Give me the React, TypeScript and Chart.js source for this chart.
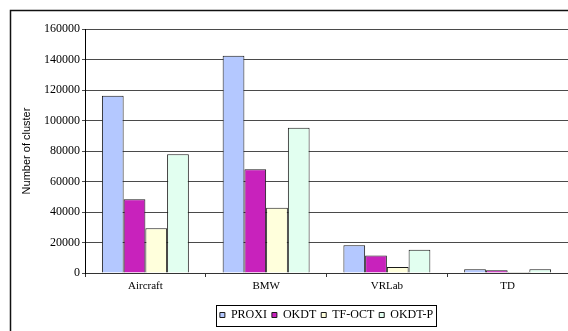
import React, { useEffect, useRef } from "react";
import { Chart, registerables } from "chart.js";

Chart.register(...registerables);

const categories = ["Aircraft", "BMW", "VRLab", "TD"];
const seriesNames = ["PROXI", "OKDT", "TF-OCT", "OKDT-P"];
const proxi = [116300, 142500, 18200, 2400];
const okdt = [48300, 68000, 11400, 1800];
const tfOct = [29300, 42800, 3900, 700];
const okdtP = [77800, 95300, 15300, 2500];
const seriesColors = ["#B4C8FF", "#C822BC", "#FFFFDC", "#E2FFF0"];
const yMax = 160000;
const yStep = 20000;

const frameAndLegendBorder = {
  id: "frameAndLegendBorder",
  afterDraw(chart: any) {
    const ctx = chart.ctx;
    ctx.save();
    ctx.strokeStyle = "#111";
    ctx.lineWidth = 1.5;
    ctx.beginPath();
    ctx.moveTo(10.5, 340);
    ctx.lineTo(10.5, 10.5);
    ctx.lineTo(600, 10.5);
    ctx.stroke();
    const lg = chart.legend;
    if (lg && lg.legendHitBoxes && lg.legendHitBoxes.length) {
      const hb = lg.legendHitBoxes;
      const first = hb[0];
      const last = hb[hb.length - 1];
      const x0 = Math.round(first.left) - 3.5;
      const x1 = Math.round(last.left + last.width) + 3.5;
      const y0 = Math.round(first.top + first.height / 2) - 9.5;
      ctx.lineWidth = 1;
      ctx.strokeStyle = "#000";
      ctx.strokeRect(x0, y0, x1 - x0, 21);
    }
    ctx.restore();
  },
};

export default function App() {
  const ref = useRef<HTMLCanvasElement | null>(null);
  useEffect(() => {
    if (!ref.current) return;
    const values = [proxi, okdt, tfOct, okdtP];
    const chart = new Chart(ref.current, {
      type: "bar",
      data: {
        labels: categories,
        datasets: seriesNames.map((name, i) => ({
          label: name,
          data: values[i],
          backgroundColor: seriesColors[i],
          borderColor: "#1a1a1a",
          borderWidth: 1,
          categoryPercentage: 0.72,
          barPercentage: 1,
        })),
      },
      options: {
        responsive: false,
        animation: false,
        layout: { padding: { left: 10, top: 29, right: 0, bottom: 0 } },
        plugins: {
          tooltip: { enabled: false },
          legend: {
            position: "bottom",
            fullSize: false,
            labels: {
              boxWidth: 5,
              boxHeight: 5,
              padding: 5,
              color: "#000",
              font: { family: "'Liberation Serif', 'Times New Roman', serif", size: 12 },
            },
          },
        },
        scales: {
          x: {
            grid: {
              display: true,
              drawOnChartArea: false,
              drawTicks: true,
              tickLength: 4,
              color: "#333",
              offset: true,
            },
            border: { display: true, color: "#333", width: 1 },
            ticks: {
              color: "#000",
              padding: 3,
              font: { family: "'Liberation Serif', 'Times New Roman', serif", size: 11 },
            },
            afterFit: (s: any) => {
              s.height = 31;
            },
          },
          y: {
            min: 0,
            max: yMax,
            ticks: {
              stepSize: yStep,
              color: "#000",
              padding: 2,
              callback: (v: any) => String(v),
              font: { family: "'Liberation Serif', 'Times New Roman', serif", size: 12 },
            },
            grid: { color: "#4a4a4a", lineWidth: 1, tickLength: 3 },
            border: { display: true, color: "#000", width: 1 },
            title: {
              display: true,
              text: "Number of cluster",
              color: "#000",
              padding: { top: 10, bottom: 0 },
              font: { family: "'Liberation Sans', Arial, sans-serif", size: 11 },
            },
            afterFit: (s: any) => {
              s.width = 75;
            },
          },
        },
      },
      plugins: [frameAndLegendBorder],
    });
    return () => chart.destroy();
  }, []);
  return (
    <div style={{ position: "fixed", left: 0, top: 0, width: 568, height: 331, background: "#fff" }}>
      <canvas ref={ref} width={568} height={331} style={{ display: "block" }} />
    </div>
  );
}
